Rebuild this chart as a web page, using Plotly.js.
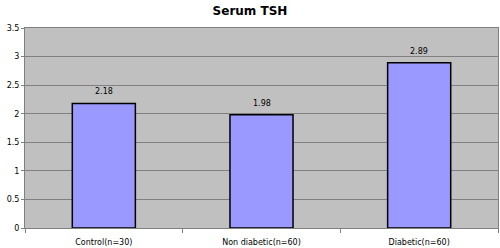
<!DOCTYPE html>
<html><head><meta charset="utf-8">
<script src="https://cdn.plot.ly/plotly-3.0.1.min.js"></script>
<style>html,body{margin:0;padding:0;background:#fff}#c{width:500px;height:248px}</style>
</head><body><div id="c"></div>
<script>
const categories = ["Control(n=30)", "Non diabetic(n=60)", "Diabetic(n=60)"];
const tshValues = [2.18, 1.98, 2.89];
const yTicks = [0, 0.5, 1, 1.5, 2, 2.5, 3, 3.5];
const yTickLabels = ["0", "0.5", "1", "1.5", "2", "2.5", "3", "3.5"];

const trace = {
  type: "bar", x: categories, y: tshValues,
  width: 0.4,
  marker: {color: "#9999FF", line: {color: "#000000", width: 1.5}},
  hoverinfo: "none"
};
const annotations = categories.map((c, i) => ({
  x: c, y: tshValues[i], xref: "x", yref: "y", text: tshValues[i].toFixed(2),
  showarrow: false, yanchor: "bottom", yshift: 5,
  font: {family: "DejaVu Sans", size: 8, color: "#000"}
}));
const layout = {
  width: 500, height: 248,
  margin: {l: 25, r: 2, t: 28, b: 20},
  paper_bgcolor: "#ffffff", plot_bgcolor: "#C0C0C0",
  showlegend: false, annotations: annotations,
  title: {text: "<b>Serum TSH</b>", x: 0.5, xanchor: "center", y: 0.955, yanchor: "middle",
          font: {family: "DejaVu Sans", size: 12, color: "#000"}},
  xaxis: {tickson: "boundaries", ticks: "outside", ticklen: 4, tickcolor: "#808080",
          showline: true, linecolor: "#808080", linewidth: 1, mirror: true, showgrid: false,
          ticklabelstandoff: 6,
          tickfont: {family: "DejaVu Sans", size: 8, color: "#000"}, fixedrange: true},
  yaxis: {range: [0, 3.5], tickvals: yTicks, ticktext: yTickLabels, ticks: "outside", ticklen: 3,
          tickcolor: "#808080", showline: true, linecolor: "#808080", linewidth: 1, mirror: true,
          gridcolor: "#808080", gridwidth: 1, zeroline: false,
          tickfont: {family: "DejaVu Sans", size: 8, color: "#000"}, fixedrange: true}
};
Plotly.newPlot("c", [trace], layout, {staticPlot: true});
</script></body></html>
